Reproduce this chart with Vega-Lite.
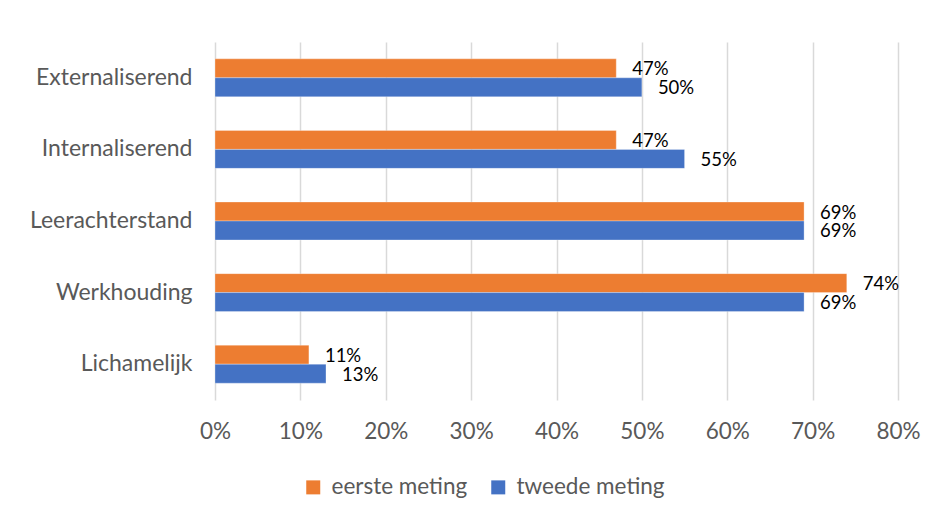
{
  "$schema": "https://vega.github.io/schema/vega-lite/v6.json",
  "autosize": {"type": "none"},
  "width": 683,
  "height": 358,
  "padding": {"left": 215, "top": 42, "right": 38, "bottom": 116},
  "background": "white",
  "config": {
    "font": "Lato",
    "view": {"stroke": null},
    "axis": {"labelFont": "Lato", "labelColor": "#595959"}
  },
  "data": {
    "values": [
      {"categorie": "Externaliserend", "meting": "eerste meting", "waarde": 0.47},
      {"categorie": "Externaliserend", "meting": "tweede meting", "waarde": 0.50},
      {"categorie": "Internaliserend", "meting": "eerste meting", "waarde": 0.47},
      {"categorie": "Internaliserend", "meting": "tweede meting", "waarde": 0.55},
      {"categorie": "Leerachterstand", "meting": "eerste meting", "waarde": 0.69},
      {"categorie": "Leerachterstand", "meting": "tweede meting", "waarde": 0.69},
      {"categorie": "Werkhouding", "meting": "eerste meting", "waarde": 0.74},
      {"categorie": "Werkhouding", "meting": "tweede meting", "waarde": 0.69},
      {"categorie": "Lichamelijk", "meting": "eerste meting", "waarde": 0.11},
      {"categorie": "Lichamelijk", "meting": "tweede meting", "waarde": 0.13}
    ]
  },
  "encoding": {
    "y": {
      "field": "categorie",
      "type": "nominal",
      "sort": ["Externaliserend", "Internaliserend", "Leerachterstand", "Werkhouding", "Lichamelijk"],
      "scale": {"paddingInner": 0.47, "paddingOuter": 0.235},
      "axis": {"title": null, "domain": false, "ticks": false, "labelFontSize": 23, "labelPadding": 23, "grid": false}
    },
    "yOffset": {
      "field": "meting",
      "type": "nominal",
      "sort": ["eerste meting", "tweede meting"],
      "scale": {"paddingInner": 0, "paddingOuter": 0}
    },
    "x": {
      "field": "waarde",
      "type": "quantitative",
      "scale": {"domain": [0, 0.8], "nice": false},
      "axis": {
        "title": null,
        "format": ".0%",
        "values": [0, 0.1, 0.2, 0.3, 0.4, 0.5, 0.6, 0.7, 0.8],
        "domain": false,
        "ticks": false,
        "labelFontSize": 22.5,
        "labelPadding": 20,
        "labelFlush": false,
        "labelBound": false,
        "labelOverlap": false,
        "grid": true,
        "gridColor": "#d9d9d9",
        "gridWidth": 1.5
      }
    }
  },
  "layer": [
    {
      "mark": {"type": "bar", "stroke": "white", "strokeWidth": 0.5, "strokeOpacity": 0.6},
      "encoding": {
        "color": {
          "field": "meting",
          "type": "nominal",
          "scale": {"domain": ["eerste meting", "tweede meting"], "range": ["#ED7D31", "#4472C4"]},
          "legend": {
            "title": null,
            "orient": "none",
            "direction": "horizontal",
            "legendX": 87,
            "legendY": 434,
            "symbolType": "square",
            "symbolSize": 196,
            "symbolStrokeWidth": 0,
            "labelFontSize": 22.5,
            "labelColor": "#595959",
            "labelFont": "Lato",
            "labelOffset": 7,
            "columnPadding": 19
          }
        }
      }
    },
    {
      "mark": {"type": "text", "align": "left", "baseline": "middle", "dx": 16, "dy": 1, "fontSize": 18.5, "color": "#000000"},
      "encoding": {
        "text": {"field": "waarde", "type": "quantitative", "format": ".0%"}
      }
    }
  ]
}
